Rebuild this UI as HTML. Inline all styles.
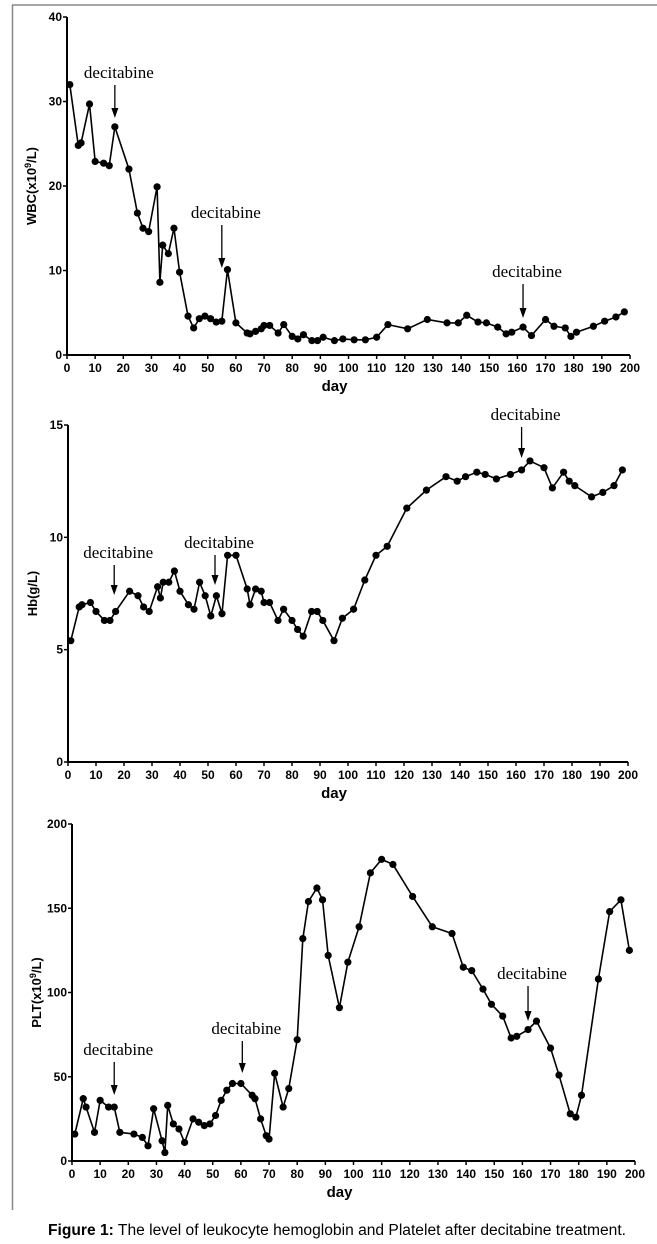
<!DOCTYPE html>
<html><head><meta charset="utf-8"><style>
html,body{margin:0;padding:0;background:#fff;}
svg{display:block;}
</style></head><body>
<svg id="fig" width="657" height="1244" viewBox="0 0 657 1244" xmlns="http://www.w3.org/2000/svg">
<line x1="12" y1="5" x2="657" y2="5" stroke="#888" stroke-width="1.5"/>
<line x1="12.5" y1="5" x2="12.5" y2="1210" stroke="#888" stroke-width="1.5"/>
<text x="48" y="1235" font-family="Liberation Sans, sans-serif" font-size="15.5" fill="#000" textLength="578" lengthAdjust="spacingAndGlyphs"><tspan font-weight="bold">Figure 1:</tspan> The level of leukocyte hemoglobin and Platelet after decitabine treatment.</text>
</svg>
<script>
const days = [1,4,5,8,10,13,15,17,22,25,27,29,32,33,34,36,38,40,43,45,47,49,51,53,55,57,60,64,65,67,69,70,72,75,77,80,82,84,87,89,91,95,98,102,106,110,114,121,128,135,139,142,146,149,153,156,158,162,165,170,173,177,179,181,187,191,195,198];
const wbcValues = [32,24.8,25.1,29.7,22.9,22.7,22.4,27,22,16.8,15,14.6,19.9,8.6,13,12,15,9.8,4.6,3.2,4.3,4.6,4.3,3.9,4,10.1,3.8,2.6,2.5,2.8,3.1,3.5,3.5,2.6,3.6,2.2,1.9,2.4,1.7,1.7,2.1,1.7,1.9,1.8,1.8,2.1,3.6,3.1,4.2,3.8,3.8,4.7,3.9,3.8,3.3,2.5,2.7,3.3,2.3,4.2,3.4,3.2,2.2,2.7,3.4,4,4.5,5.1];
const hbDays = [1,4,5,8,10,13,15,17,22,25,27,29,32,33,34,36,38,40,43,45,47,49,51,53,55,57,60,64,65,67,69,70,72,75,77,80,82,84,87,89,91,95,98,102,106,110,114,121,128,135,139,142,146,149,153,158,162,165,170,173,177,179,181,187,191,195,198];
const hbValues = [5.4,6.9,7,7.1,6.7,6.3,6.3,6.7,7.6,7.4,6.9,6.7,7.8,7.3,8,8,8.5,7.6,7,6.8,8,7.4,6.5,7.4,6.6,9.2,9.2,7.7,7,7.7,7.6,7.1,7.1,6.3,6.8,6.3,5.9,5.6,6.7,6.7,6.3,5.4,6.4,6.8,8.1,9.2,9.6,11.3,12.1,12.7,12.5,12.7,12.9,12.8,12.6,12.8,13,13.4,13.1,12.2,12.9,12.5,12.3,11.8,12,12.3,13];
const pltValues = [16,37,32,17,36,32,32,17,16,14,9,31,12,5,33,22,19,11,25,23,21,22,27,36,42,46,46,39,37,25,15,13,52,32,43,72,132,154,162,155,122,91,118,139,171,179,176,157,139,135,115,113,102,93,86,73,74,78,83,67,51,28,26,39,108,148,155,125];
const xTicks = [0,10,20,30,40,50,60,70,80,90,100,110,120,130,140,150,160,170,180,190,200];
const wbcTicks = [0,10,20,30,40];
const hbTicks = [0,5,10,15];
const pltTicks = [0,50,100,150,200];
const wbcArrows = [17,55,162];
const hbArrows = [16.5,52.5,162];
const pltArrows = [15,60.5,162];

const NS='http://www.w3.org/2000/svg';
const svg=document.getElementById('fig');
function mk(tag,attrs,parent){const e=document.createElementNS(NS,tag);for(const k in attrs)e.setAttribute(k,attrs[k]);(parent||svg).appendChild(e);return e;}

function chart(cfg){
  const g=mk('g',{});
  
  
  const X=d=>cfg.x0+(cfg.x1-cfg.x0)*d/200;
  const Y=v=>cfg.y0-(cfg.y0-cfg.y1)*v/cfg.ymax;
  const ax=mk('path',{d:`M${cfg.x0},${cfg.y1} L${cfg.x0},${cfg.y0} L${cfg.x1},${cfg.y0}`,fill:'none',stroke:'#000','stroke-width':2},g);
  
  
  xTicks.forEach(t=>{
    mk('line',{x1:X(t),y1:cfg.y0,x2:X(t),y2:cfg.y0+4,stroke:'#000','stroke-width':1.5},g);
    const tx=mk('text',{x:X(t),y:cfg.y0+17,'text-anchor':'middle','font-family':'Liberation Sans, sans-serif','font-size':12,'font-weight':'bold'},g);
    tx.textContent=t;
    
    
  });
  cfg.yTicks.forEach(t=>{
    mk('line',{x1:cfg.x0-4,y1:Y(t),x2:cfg.x0,y2:Y(t),stroke:'#000','stroke-width':1.5},g);
    const tx=mk('text',{x:cfg.x0-5,y:Y(t)+4,'text-anchor':'end','font-family':'Liberation Sans, sans-serif','font-size':12,'font-weight':'bold'},g);
    tx.textContent=t;
    
    
  });
  const xt=mk('text',{x:X(100)-14,y:cfg.y0+36,'text-anchor':'middle','font-family':'Liberation Sans, sans-serif','font-size':15,'font-weight':'bold'},g);
  xt.textContent='day';
  
  
  const cy=(cfg.y0+cfg.y1)/2;
  const yt=mk('text',{x:0,y:0,transform:`translate(${cfg.x0-31},${cy}) rotate(-90)`,'text-anchor':'middle','font-family':'Liberation Sans, sans-serif','font-size':13,'font-weight':'bold'},g);
  yt.innerHTML=cfg.ytitle;
  
  
  const pts=cfg.days.map((d,i)=>`${X(d)},${Y(cfg.vals[i])}`).join(' ');
  const pl=mk('polyline',{points:pts,fill:'none',stroke:'#000','stroke-width':1.6},g);
  
  
  cfg.days.forEach((d,i)=>{
    const c=mk('circle',{cx:X(d),cy:Y(cfg.vals[i]),r:3.6,fill:'#000'},g);
    
    
  });
  cfg.arrows.forEach((d,k)=>{
    const a=cfg.arrowY[k];
    const x=X(d);
    const lt=mk('text',{x:x+4,y:a[0],'text-anchor':'middle','font-family':'Liberation Serif, serif','font-size':17},g);
    lt.textContent='decitabine';
    
    
    mk('line',{x1:x,y1:a[0]+7,x2:x,y2:a[1]-8,stroke:'#000','stroke-width':1.3},g);
    const ah=mk('path',{d:`M${x-3.5},${a[1]-10} L${x+3.5},${a[1]-10} L${x},${a[1]} Z`,fill:'#000'},g);
    
    
  });
}
chart({name:'wbc-chart',x0:67,x1:630,y0:355,y1:17,ymax:40,yTicks:wbcTicks,days:days,vals:wbcValues,ytitle:'WBC(x10<tspan dy="-5" font-size="9">9</tspan><tspan dy="5">/L)</tspan>',arrows:wbcArrows,arrowY:[[78,118],[218,268],[277,318]]});
chart({name:'hb-chart',x0:68,x1:628,y0:762,y1:425,ymax:15,yTicks:hbTicks,days:hbDays,vals:hbValues,ytitle:'Hb(g/L)',arrows:hbArrows,arrowY:[[558,595],[548,585],[420,458]]});
chart({name:'plt-chart',x0:72,x1:635,y0:1161,y1:824,ymax:200,yTicks:pltTicks,days:days,vals:pltValues,ytitle:'PLT(x10<tspan dy="-5" font-size="9">9</tspan><tspan dy="5">/L)</tspan>',arrows:pltArrows,arrowY:[[1055,1095],[1034,1073],[979,1021]]});
</script>
</body></html>
